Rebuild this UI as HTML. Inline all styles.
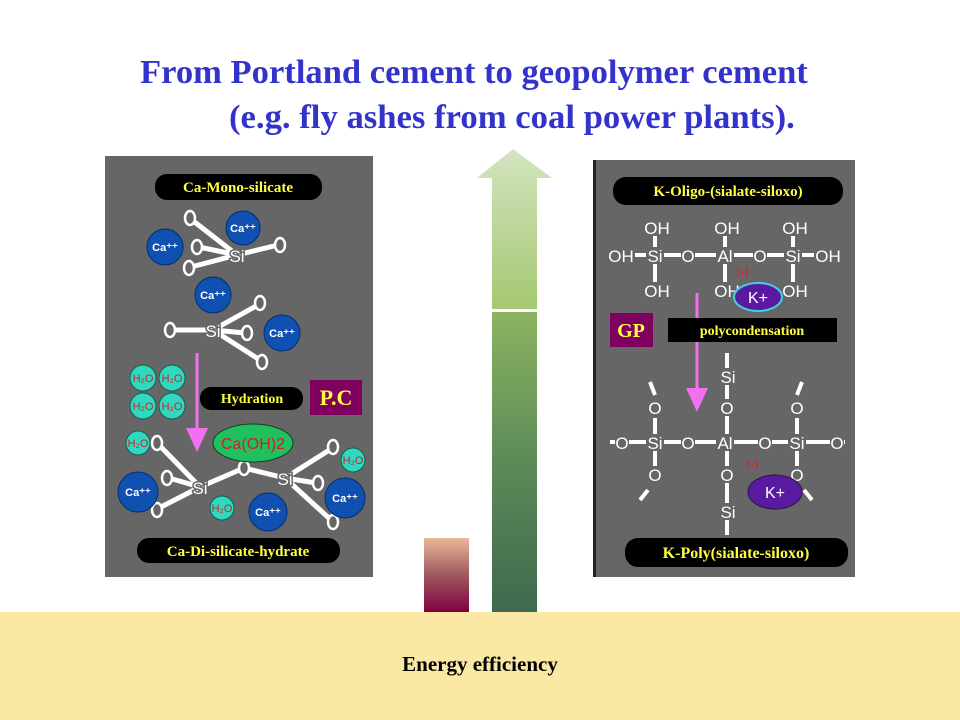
<!DOCTYPE html>
<html><head><meta charset="utf-8"><style>
html,body{margin:0;padding:0;background:#fff;width:960px;height:720px;overflow:hidden}
svg{display:block}
</style></head><body>
<svg width="960" height="720" viewBox="0 0 960 720" xmlns="http://www.w3.org/2000/svg" font-family="Liberation Sans, sans-serif">
<defs>
<linearGradient id="gl" x1="0" y1="0" x2="0" y2="1"><stop offset="0" stop-color="#d4e4c0"/><stop offset="1" stop-color="#a4c870"/></linearGradient>
<linearGradient id="gd" x1="0" y1="0" x2="0" y2="1"><stop offset="0" stop-color="#8cb460"/><stop offset="0.5" stop-color="#5c8a58"/><stop offset="1" stop-color="#3e6a4e"/></linearGradient>
<linearGradient id="gr" x1="0" y1="0" x2="0" y2="1"><stop offset="0" stop-color="#e8b898"/><stop offset="0.5" stop-color="#a05860"/><stop offset="1" stop-color="#800040"/></linearGradient>
</defs>
<!-- title -->
<g transform="translate(140,83) scale(1.017,1)">
<text x="0" y="0" font-family="Liberation Serif, serif" font-weight="bold" font-size="34" fill="#3333cc">From Portland cement to geopolymer cement</text>
</g>
<g transform="translate(229,128) scale(1.02,1)">
<text x="0" y="0" font-family="Liberation Serif, serif" font-weight="bold" font-size="34" fill="#3333cc">(e.g. fly ashes from coal power plants).</text>
</g>

<!-- bottom band -->
<rect x="0" y="612" width="960" height="108" fill="#fbe8a4"/>
<text x="480" y="671" text-anchor="middle" font-family="Liberation Serif, serif" font-weight="bold" font-size="21" fill="#000">Energy efficiency</text>

<!-- center bars -->
<polygon points="513,149 552,178 537,178 537,309 492,309 492,178 477,178" fill="url(#gl)"/>
<rect x="492" y="312" width="45" height="300" fill="url(#gd)"/>
<rect x="424" y="538" width="45" height="74" fill="url(#gr)"/>

<!-- LEFT PANEL -->
<rect x="105" y="156" width="268" height="421" fill="#666"/>
<rect x="155" y="174" width="167" height="26" rx="12" fill="#000"/>
<text x="238" y="192" text-anchor="middle" font-family="Liberation Serif, serif" font-weight="bold" font-size="15" fill="#ffff40">Ca-Mono-silicate</text>
<g stroke="#fff" stroke-width="5" stroke-linecap="round">
<line x1="237" y1="255" x2="192" y2="220"/><line x1="237" y1="255" x2="199" y2="247"/><line x1="237" y1="255" x2="191" y2="267"/><line x1="237" y1="255" x2="278" y2="245"/>
<line x1="213" y1="330" x2="172" y2="330"/><line x1="213" y1="330" x2="258" y2="305"/><line x1="213" y1="330" x2="245" y2="333"/><line x1="213" y1="330" x2="260" y2="360"/>
<line x1="200" y1="487" x2="159" y2="445"/><line x1="200" y1="487" x2="169" y2="478"/><line x1="200" y1="487" x2="159" y2="508"/><line x1="200" y1="487" x2="244" y2="468"/><line x1="244" y1="468" x2="285" y2="478"/>
<line x1="285" y1="478" x2="331" y2="449"/><line x1="285" y1="478" x2="316" y2="483"/><line x1="285" y1="478" x2="331" y2="520"/>
</g>
<g fill="#666" stroke="#fff" stroke-width="2.5">
<ellipse cx="190" cy="218" rx="5" ry="7"/><ellipse cx="197" cy="247" rx="5" ry="7"/><ellipse cx="189" cy="268" rx="5" ry="7"/><ellipse cx="280" cy="245" rx="5" ry="7"/>
<ellipse cx="170" cy="330" rx="5" ry="7"/><ellipse cx="260" cy="303" rx="5" ry="7"/><ellipse cx="247" cy="333" rx="5" ry="7"/><ellipse cx="262" cy="362" rx="5" ry="7"/>
<ellipse cx="157" cy="443" rx="5" ry="7"/><ellipse cx="167" cy="478" rx="5" ry="7"/><ellipse cx="157" cy="510" rx="5" ry="7"/><ellipse cx="244" cy="468" rx="5" ry="7"/>
<ellipse cx="333" cy="447" rx="5" ry="7"/><ellipse cx="318" cy="483" rx="5" ry="7"/><ellipse cx="333" cy="522" rx="5" ry="7"/>
</g>
<g font-size="17" fill="#fff" text-anchor="middle" stroke="#666" stroke-width="3" paint-order="stroke">
<text x="237" y="262">Si</text><text x="213" y="337">Si</text><text x="200" y="494">Si</text><text x="285" y="485">Si</text>
</g>
<g fill="#1050b0" stroke="#003070" stroke-width="1">
<circle cx="243" cy="228" r="17"/><circle cx="165" cy="247" r="18"/><circle cx="213" cy="295" r="18"/><circle cx="282" cy="333" r="18"/>
<circle cx="138" cy="492" r="20"/><circle cx="268" cy="512" r="19"/><circle cx="345" cy="498" r="20"/>
</g>
<g font-size="11" font-weight="bold" fill="#fff" text-anchor="middle">
<text x="243" y="232">Ca⁺⁺</text><text x="165" y="251">Ca⁺⁺</text><text x="213" y="299">Ca⁺⁺</text><text x="282" y="337">Ca⁺⁺</text>
<text x="138" y="496">Ca⁺⁺</text><text x="268" y="516">Ca⁺⁺</text><text x="345" y="502">Ca⁺⁺</text>
</g>
<g fill="#30d8c0" stroke="#106050" stroke-width="1">
<circle cx="143" cy="378" r="13"/><circle cx="172" cy="378" r="13"/><circle cx="143" cy="406" r="13"/><circle cx="172" cy="406" r="13"/>
<circle cx="138" cy="443" r="12"/><circle cx="353" cy="460" r="12"/><circle cx="222" cy="508" r="12"/>
</g>
<g font-size="11" fill="#d02020" text-anchor="middle">
<text x="143" y="382">H₂O</text><text x="172" y="382">H₂O</text><text x="143" y="410">H₂O</text><text x="172" y="410">H₂O</text>
<text x="138" y="447">H₂O</text><text x="353" y="464">H₂O</text><text x="222" y="512">H₂O</text>
</g>
<line x1="197" y1="353" x2="197" y2="432" stroke="#f070f0" stroke-width="3"/>
<polygon points="186,428 208,428 197,452" fill="#f070f0"/>
<rect x="200" y="387" width="103" height="23" rx="11" fill="#000"/>
<text x="252" y="403" text-anchor="middle" font-family="Liberation Serif, serif" font-weight="bold" font-size="14" fill="#ffff40">Hydration</text>
<rect x="310" y="380" width="52" height="35" fill="#800060"/>
<text x="336" y="405" text-anchor="middle" font-family="Liberation Serif, serif" font-weight="bold" font-size="22" fill="#ffff40">P.C</text>
<ellipse cx="253" cy="443" rx="40" ry="19" fill="#20c060" stroke="#104020"/>
<text x="253" y="449" text-anchor="middle" font-size="16" fill="#d02020">Ca(OH)2</text>
<rect x="137" y="538" width="203" height="25" rx="12" fill="#000"/>
<text x="238" y="556" text-anchor="middle" font-family="Liberation Serif, serif" font-weight="bold" font-size="15" fill="#ffff40">Ca-Di-silicate-hydrate</text>

<!-- RIGHT PANEL -->
<rect x="593" y="160" width="262" height="417" fill="#666"/>
<rect x="593" y="160" width="3" height="417" fill="#222"/>
<rect x="613" y="177" width="230" height="28" rx="13" fill="#000"/>
<text x="728" y="196" text-anchor="middle" font-family="Liberation Serif, serif" font-weight="bold" font-size="15" fill="#ffff40">K-Oligo-(sialate-siloxo)</text>
<g stroke="#fff" stroke-width="4">
<line x1="630" y1="255" x2="815" y2="255"/>
<line x1="655" y1="236" x2="655" y2="282"/><line x1="725" y1="236" x2="725" y2="282"/><line x1="793" y1="236" x2="793" y2="282"/>
<line x1="610" y1="442" x2="845" y2="442"/>
<line x1="727" y1="353" x2="727" y2="535"/>
<line x1="655" y1="418" x2="655" y2="466"/><line x1="797" y1="418" x2="797" y2="466"/>
<line x1="655" y1="395" x2="650" y2="382"/><line x1="797" y1="395" x2="802" y2="382"/>
<line x1="648" y1="490" x2="640" y2="500"/><line x1="804" y1="490" x2="812" y2="500"/>
</g>
<g fill="#666">
<rect x="607" y="247" width="28" height="17"/><rect x="646" y="247" width="18" height="17"/><rect x="681" y="247" width="14" height="17"/><rect x="716" y="247" width="18" height="17"/><rect x="753" y="247" width="14" height="17"/><rect x="784" y="247" width="18" height="17"/><rect x="814" y="247" width="28" height="17"/>
<rect x="643" y="219" width="28" height="17"/><rect x="713" y="219" width="28" height="17"/><rect x="781" y="219" width="28" height="17"/>
<rect x="643" y="282" width="28" height="17"/><rect x="713" y="282" width="28" height="17"/><rect x="781" y="282" width="28" height="17"/>
<rect x="615" y="434" width="14" height="17"/><rect x="646" y="434" width="18" height="17"/><rect x="681" y="434" width="14" height="17"/><rect x="716" y="434" width="18" height="17"/><rect x="758" y="434" width="14" height="17"/><rect x="788" y="434" width="18" height="17"/><rect x="830" y="434" width="14" height="17"/>
<rect x="719" y="368" width="18" height="17"/><rect x="720" y="399" width="14" height="17"/><rect x="720" y="466" width="14" height="17"/><rect x="719" y="503" width="18" height="17"/>
<rect x="648" y="399" width="14" height="17"/><rect x="648" y="466" width="14" height="17"/><rect x="790" y="399" width="14" height="17"/><rect x="790" y="466" width="14" height="17"/>
</g>
<g font-size="17" fill="#fff" text-anchor="middle">
<text x="621" y="262">OH</text><text x="655" y="262">Si</text><text x="688" y="262">O</text><text x="725" y="262">Al</text><text x="760" y="262">O</text><text x="793" y="262">Si</text><text x="828" y="262">OH</text>
<text x="657" y="234">OH</text><text x="727" y="234">OH</text><text x="795" y="234">OH</text>
<text x="657" y="297">OH</text><text x="727" y="297">OH</text><text x="795" y="297">OH</text>
<text x="622" y="449">O</text><text x="655" y="449">Si</text><text x="688" y="449">O</text><text x="725" y="449">Al</text><text x="765" y="449">O</text><text x="797" y="449">Si</text><text x="837" y="449">O</text>
<text x="728" y="383">Si</text><text x="727" y="414">O</text><text x="727" y="481">O</text><text x="728" y="518">Si</text>
<text x="655" y="414">O</text><text x="655" y="481">O</text><text x="797" y="414">O</text><text x="797" y="481">O</text>
</g>
<text x="743" y="275" text-anchor="middle" font-size="10" font-weight="bold" fill="#e02020" letter-spacing="1">(-)</text>
<text x="753" y="467" text-anchor="middle" font-size="10" font-weight="bold" fill="#e02020" letter-spacing="1">(-)</text>
<ellipse cx="758" cy="297" rx="24" ry="14" fill="#5a1aa0" stroke="#40d0e0" stroke-width="2"/>
<text x="758" y="303" text-anchor="middle" font-size="16" fill="#fff">K+</text>
<ellipse cx="775" cy="492" rx="27" ry="17" fill="#5a1aa0" stroke="#30104a"/>
<text x="775" y="498" text-anchor="middle" font-size="16" fill="#fff">K+</text>
<line x1="697" y1="293" x2="697" y2="392" stroke="#f070f0" stroke-width="3"/>
<polygon points="686,388 708,388 697,412" fill="#f070f0"/>
<rect x="610" y="313" width="43" height="34" fill="#800060"/>
<text x="631" y="337" text-anchor="middle" font-family="Liberation Serif, serif" font-weight="bold" font-size="20" fill="#ffff40">GP</text>
<rect x="668" y="318" width="169" height="24" fill="#000"/>
<text x="752" y="335" text-anchor="middle" font-family="Liberation Serif, serif" font-weight="bold" font-size="14" fill="#ffff40">polycondensation</text>
<rect x="625" y="538" width="223" height="29" rx="13" fill="#000"/>
<text x="736" y="558" text-anchor="middle" font-family="Liberation Serif, serif" font-weight="bold" font-size="16" fill="#ffff40">K-Poly(sialate-siloxo)</text>
</svg>
</body></html>
